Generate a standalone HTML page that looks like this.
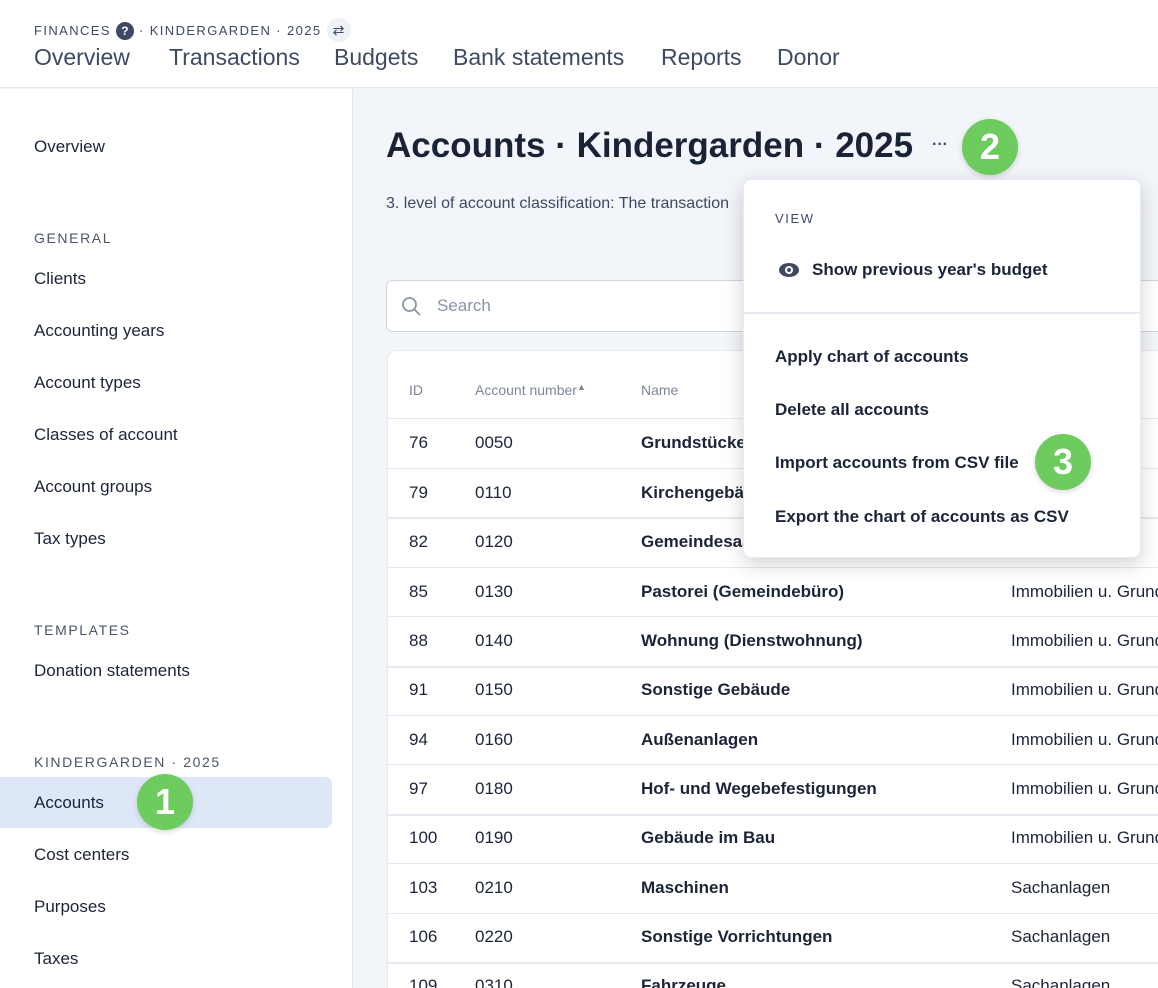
<!DOCTYPE html>
<html><head><meta charset="utf-8"><style>
*{margin:0;padding:0;box-sizing:border-box}
html,body{width:1158px;height:988px;overflow:hidden}
body{position:relative;background:#f2f5f9;font-family:"Liberation Sans",sans-serif;color:#1c2438}
.a{position:absolute;white-space:nowrap}
.hdr{left:0;top:0;width:1158px;height:88px;background:#fff;border-bottom:1px solid #e3e7ee}
.side{left:0;top:89px;width:353px;height:899px;background:#fff;border-right:1px solid #e3e7ee}
.sl{font-size:17px;color:#1c2438;left:34px}
.sec{font-size:14px;letter-spacing:1.6px;color:#4a5568;left:34px}
.nav{font-size:23px;color:#3d4a62;top:44px}
.g{position:absolute;width:56px;height:56px;border-radius:50%;background:#6dcc5d;color:#fff;font-weight:bold;font-size:36px;text-align:center;line-height:56px;box-shadow:0 2px 6px rgba(0,0,0,.15)}
.card{left:387px;top:350px;width:800px;height:638px;background:#fff;border-radius:10px 10px 0 0;border:1px solid #e6e9ef;border-bottom:none}
.row{position:absolute;left:387px;width:771px;height:1px;background:#e6e9ef}
.td{font-size:17px;position:absolute;white-space:nowrap}
.b{font-weight:bold}
.menu{left:743px;top:179px;width:398px;height:379px;background:#fff;border-radius:8px;box-shadow:0 6px 20px rgba(0,0,0,.18);border:1px solid #e6e9ef}
.mi{font-size:17px;font-weight:bold;left:775px;color:#1c2438}
</style></head><body>
<div class="a hdr"></div>
<div class="a" style="left:34px;top:18px;font-size:13px;letter-spacing:1.4px;color:#3d4a62">FINANCES <span style="display:inline-block;width:18px;height:18px;border-radius:50%;background:#3d4a62;color:#fff;text-align:center;line-height:18px;font-weight:bold;letter-spacing:0;font-size:12px">?</span> · KINDERGARDEN · 2025 <span style="display:inline-block;width:24px;height:24px;border-radius:50%;background:#eef1f6;text-align:center;line-height:24px;letter-spacing:0;font-size:14px">⇄</span></div>
<div class="a nav" style="left:34px">Overview</div>
<div class="a nav" style="left:169px">Transactions</div>
<div class="a nav" style="left:334px">Budgets</div>
<div class="a nav" style="left:453px">Bank statements</div>
<div class="a nav" style="left:661px">Reports</div>
<div class="a nav" style="left:777px">Donor</div>

<div class="a side"></div>
<div class="a sl" style="top:137px">Overview</div>
<div class="a sec" style="top:230px">GENERAL</div>
<div class="a sl" style="top:269px">Clients</div>
<div class="a sl" style="top:321px">Accounting years</div>
<div class="a sl" style="top:373px">Account types</div>
<div class="a sl" style="top:425px">Classes of account</div>
<div class="a sl" style="top:477px">Account groups</div>
<div class="a sl" style="top:529px">Tax types</div>
<div class="a sec" style="top:622px">TEMPLATES</div>
<div class="a sl" style="top:661px">Donation statements</div>
<div class="a sec" style="top:754px">KINDERGARDEN · 2025</div>
<div class="a" style="left:0;top:777px;width:332px;height:51px;background:#dde7f8;border-radius:0 7px 7px 0"></div>
<div class="a sl" style="top:793px">Accounts</div>
<div class="a sl" style="top:845px">Cost centers</div>
<div class="a sl" style="top:897px">Purposes</div>
<div class="a sl" style="top:949px">Taxes</div>
<div class="g" style="left:137px;top:774px">1</div>

<div class="a" style="left:386px;top:126px;font-size:35px;font-weight:bold;color:#1a2236">Accounts · Kindergarden · 2025</div>
<div class="a" style="left:932px;top:136px;font-size:16px;font-weight:bold;color:#3d4a62">···</div>
<div class="g" style="left:962px;top:119px">2</div>
<div class="a" style="left:386px;top:195px;font-size:16px;color:#3d4a62">3. level of account classification: The transaction</div>

<div class="a" style="left:386px;top:280px;width:800px;height:52px;background:#fff;border:1px solid #d0d6e0;border-radius:6px"></div>
<svg class="a" style="left:401px;top:296px" width="22" height="22"><circle cx="8.5" cy="8.5" r="6.5" fill="none" stroke="#8a94a6" stroke-width="1.8"/><line x1="13" y1="13" x2="19" y2="19" stroke="#8a94a6" stroke-width="1.8"/></svg>
<div class="a" style="left:437px;top:296px;font-size:17px;color:#8a94a6">Search</div>

<div class="a card"></div>
<div class="td" style="left:409px;top:382px;font-size:14px;color:#7b869a">ID</div>
<div class="td" style="left:475px;top:382px;font-size:14px;color:#7b869a">Account number<span style="font-size:9px;vertical-align:5px">▲</span></div>
<div class="td" style="left:641px;top:382px;font-size:14px;color:#7b869a">Name</div>

<div class="row" style="top:418px"></div>
<div class="row" style="top:468px"></div>
<div class="row" style="top:517px;height:2px"></div>
<div class="row" style="top:567px"></div>
<div class="row" style="top:616px"></div>
<div class="row" style="top:666px;height:2px"></div>
<div class="row" style="top:715px"></div>
<div class="row" style="top:764px"></div>
<div class="row" style="top:814px;height:2px"></div>
<div class="row" style="top:863px"></div>
<div class="row" style="top:913px"></div>
<div class="row" style="top:962px;height:2px"></div>

<div class="td" style="left:409px;top:433px">76</div><div class="td" style="left:475px;top:433px">0050</div><div class="td b" style="left:641px;top:433px">Grundstücke</div>
<div class="td" style="left:409px;top:483px">79</div><div class="td" style="left:475px;top:483px">0110</div><div class="td b" style="left:641px;top:483px">Kirchengebäude</div>
<div class="td" style="left:409px;top:532px">82</div><div class="td" style="left:475px;top:532px">0120</div><div class="td b" style="left:641px;top:532px">Gemeindesaal</div>
<div class="td" style="left:409px;top:582px">85</div><div class="td" style="left:475px;top:582px">0130</div><div class="td b" style="left:641px;top:582px">Pastorei (Gemeindebüro)</div><div class="td" style="left:1011px;top:582px">Immobilien u. Grundstücke</div>
<div class="td" style="left:409px;top:631px">88</div><div class="td" style="left:475px;top:631px">0140</div><div class="td b" style="left:641px;top:631px">Wohnung (Dienstwohnung)</div><div class="td" style="left:1011px;top:631px">Immobilien u. Grundstücke</div>
<div class="td" style="left:409px;top:680px">91</div><div class="td" style="left:475px;top:680px">0150</div><div class="td b" style="left:641px;top:680px">Sonstige Gebäude</div><div class="td" style="left:1011px;top:680px">Immobilien u. Grundstücke</div>
<div class="td" style="left:409px;top:730px">94</div><div class="td" style="left:475px;top:730px">0160</div><div class="td b" style="left:641px;top:730px">Außenanlagen</div><div class="td" style="left:1011px;top:730px">Immobilien u. Grundstücke</div>
<div class="td" style="left:409px;top:779px">97</div><div class="td" style="left:475px;top:779px">0180</div><div class="td b" style="left:641px;top:779px">Hof- und Wegebefestigungen</div><div class="td" style="left:1011px;top:779px">Immobilien u. Grundstücke</div>
<div class="td" style="left:409px;top:828px">100</div><div class="td" style="left:475px;top:828px">0190</div><div class="td b" style="left:641px;top:828px">Gebäude im Bau</div><div class="td" style="left:1011px;top:828px">Immobilien u. Grundstücke</div>
<div class="td" style="left:409px;top:878px">103</div><div class="td" style="left:475px;top:878px">0210</div><div class="td b" style="left:641px;top:878px">Maschinen</div><div class="td" style="left:1011px;top:878px">Sachanlagen</div>
<div class="td" style="left:409px;top:927px">106</div><div class="td" style="left:475px;top:927px">0220</div><div class="td b" style="left:641px;top:927px">Sonstige Vorrichtungen</div><div class="td" style="left:1011px;top:927px">Sachanlagen</div>
<div class="td" style="left:409px;top:976px">109</div><div class="td" style="left:475px;top:976px">0310</div><div class="td b" style="left:641px;top:976px">Fahrzeuge</div><div class="td" style="left:1011px;top:976px">Sachanlagen</div>

<div class="a menu"></div>
<div class="a" style="left:775px;top:211px;font-size:13px;letter-spacing:1.6px;color:#3d4a62">VIEW</div>
<svg class="a" style="left:778px;top:260px" width="22" height="20"><ellipse cx="11" cy="10" rx="10" ry="7" fill="#3d4a62"/><circle cx="11" cy="10" r="4" fill="#fff"/><circle cx="11" cy="10" r="2" fill="#3d4a62"/></svg>
<div class="a mi" style="left:812px;top:260px">Show previous year's budget</div>
<div class="a" style="left:743px;top:312px;width:398px;height:2px;background:#e6e9ef"></div>
<div class="a mi" style="top:347px">Apply chart of accounts</div>
<div class="a mi" style="top:400px">Delete all accounts</div>
<div class="a mi" style="top:453px">Import accounts from CSV file</div>
<div class="a mi" style="top:507px">Export the chart of accounts as CSV</div>
<div class="g" style="left:1035px;top:434px">3</div>
</body></html>
